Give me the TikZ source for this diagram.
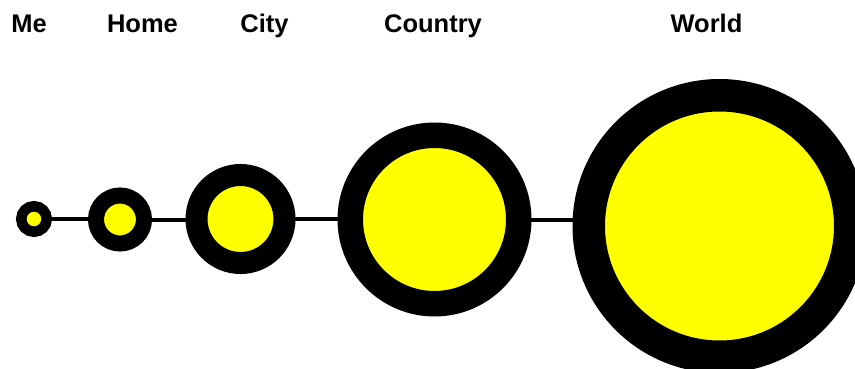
\documentclass[tikz,border=0pt]{standalone}
\usepackage{fontspec}
\setmainfont{Liberation Sans}

\begin{document}
\begin{tikzpicture}[x=1pt, y=-1pt,
  ring/.style={circle, draw=black, fill=ringYellow, inner sep=0pt, outer sep=0pt},
  lbl/.style={anchor=base, inner sep=0pt, font=\fontsize{25.5}{30}\selectfont\bfseries},
  link/.style={draw=black, line width=4pt}]

% Colori
\definecolor{ringYellow}{HTML}{FFFF00}

% Cornice (l'ultimo cerchio esce dal bordo)
\useasboundingbox (0,0) rectangle (855,369);
\clip (0,0) rectangle (855,369);

% Titoli
\node[lbl] (tMe) at (29,33) {Me};
\node[lbl] (tHome) at (142.5,33) {Home};
\node[lbl] (tCity) at (264.5,33) {City};
\node[lbl] (tCountry) at (433,33) {Country};
\node[lbl] (tWorld) at (706.5,33) {World};

% Cerchi: diametro = R + r, bordo = R - r
\node[ring, minimum size=25.5, line width=10.5] (me) at (34,219) {};
\node[ring, minimum size=48, line width=16] (home) at (120,219.5) {};
\node[ring, minimum size=88, line width=22] (city) at (240.5,219) {};
\node[ring, minimum size=168.5, line width=25.5] (country) at (434.5,219.5) {};
\node[ring, minimum size=261.5, line width=32.5] (world) at (719.5,226) {};

% Collegamenti
\draw[link] (me.east) -- (me.east -| home.west);
\draw[link] (home.east) -- (home.east -| city.west);
\draw[link] (city.east) -- (city.east -| country.west);
\draw[link] (country.east) -- (country.east -| world.west);

\end{tikzpicture}
\end{document}
